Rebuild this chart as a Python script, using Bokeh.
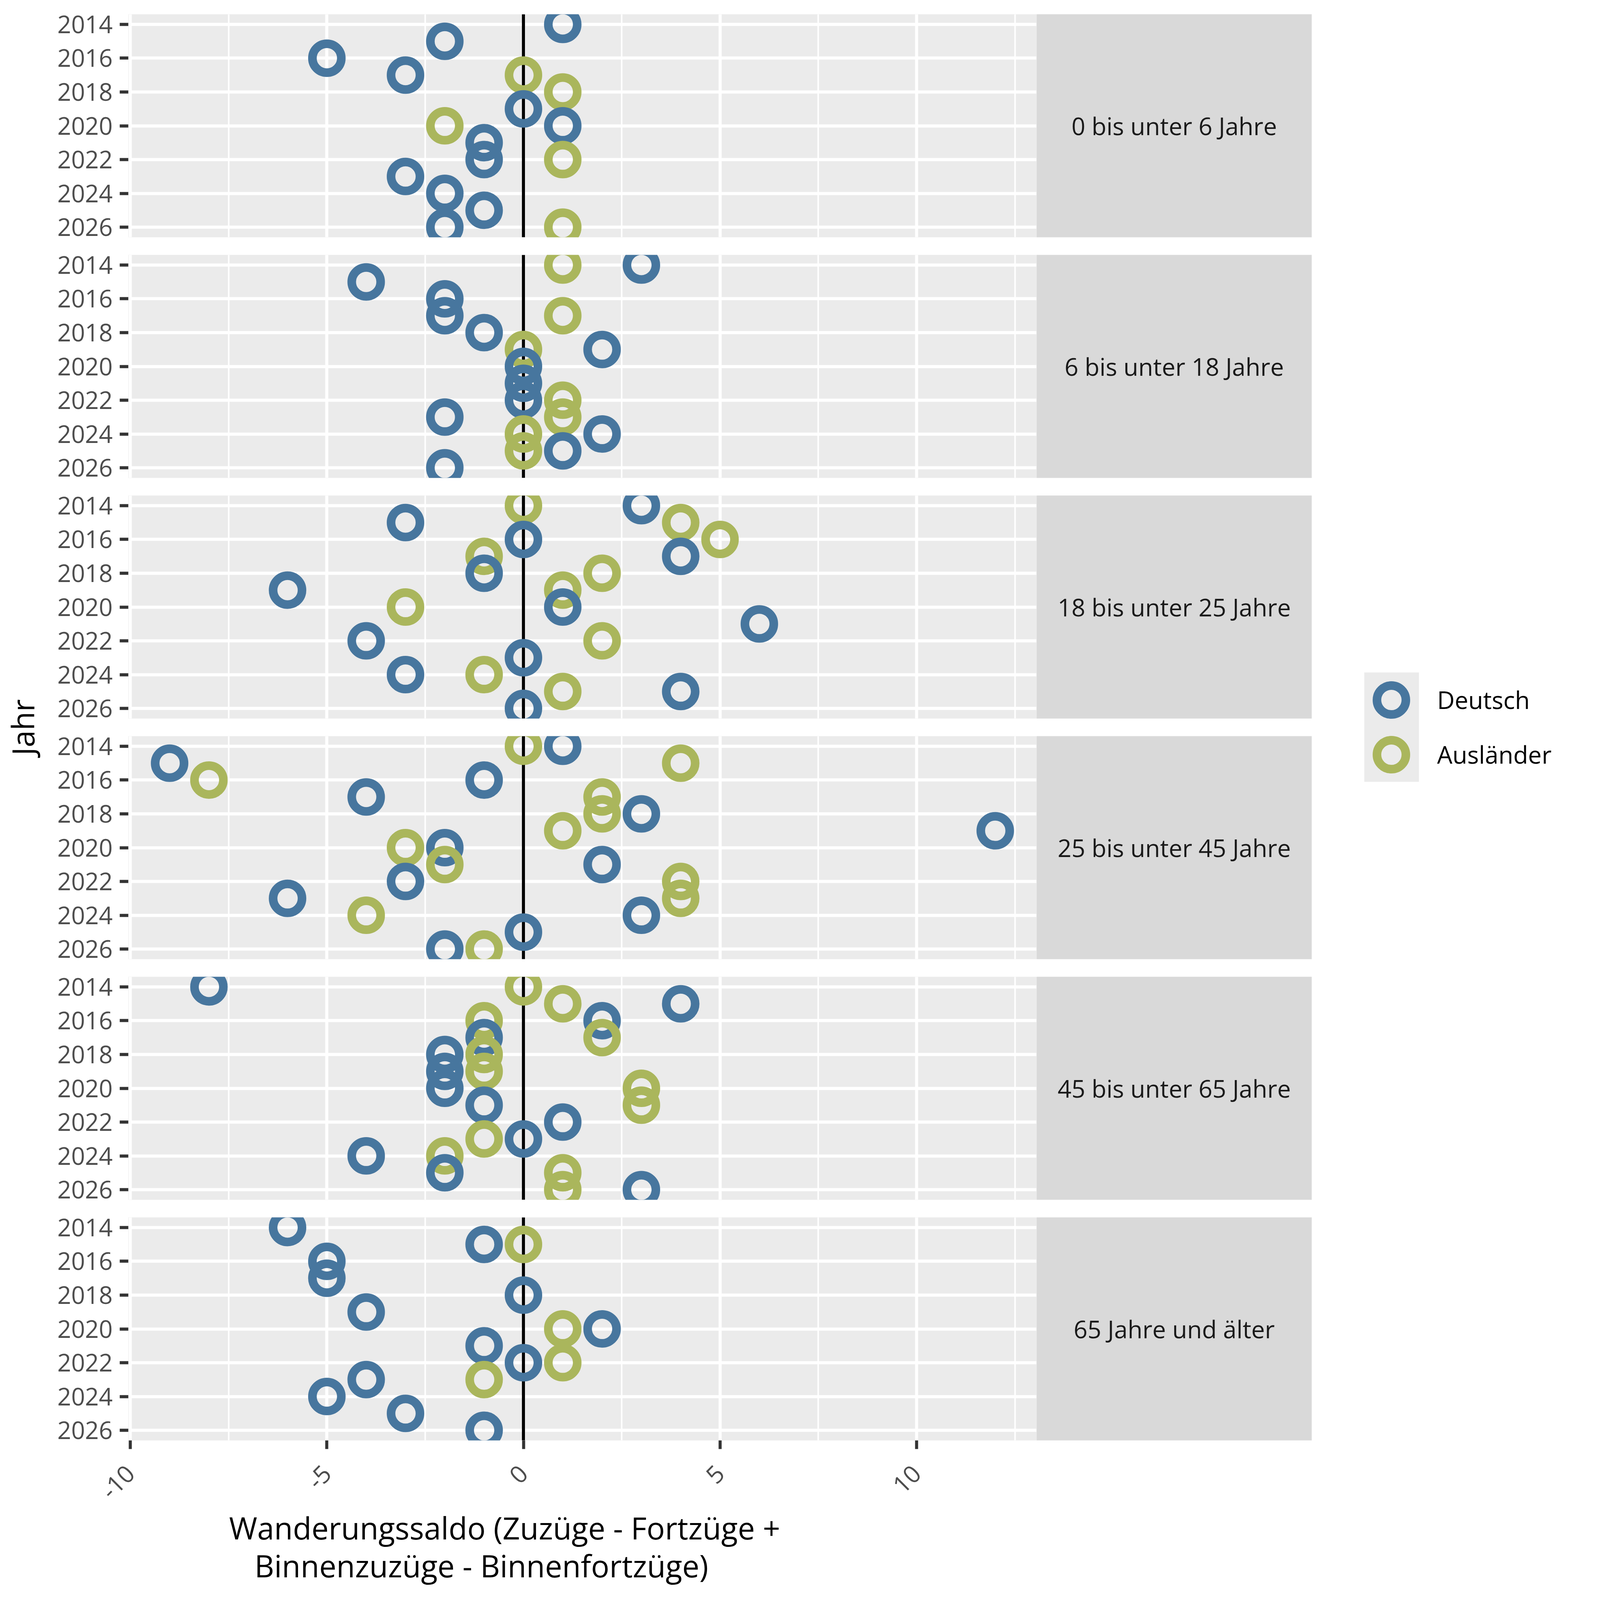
from math import pi
from bokeh.plotting import figure
from bokeh.models import (Range1d, FixedTicker, Grid, Span, ColumnDataSource,
                          Label, Legend, LegendItem, BoxAnnotation, Title)
from bokeh.layouts import row, column
from bokeh.embed import file_html
from bokeh.resources import INLINE

# ---------------- data ----------------
years = list(range(2014, 2027))
year_ticks = [2014, 2016, 2018, 2020, 2022, 2024, 2026]
x_ticks = [-10, -5, 0, 5, 10]
x_tick_labels = ["-10", "-5", "0", "5", "10"]
x_minor = [-7.5, -2.5, 2.5, 7.5, 12.5]

groups = ["0 bis unter 6 Jahre", "6 bis unter 18 Jahre", "18 bis unter 25 Jahre",
          "25 bis unter 45 Jahre", "45 bis unter 65 Jahre", "65 Jahre und älter"]
series_names = ["Deutsch", "Ausländer"]

d_0_6   = [1, -2, -5, -3, None, 0, 1, -1, -1, -3, -2, -1, -2]
a_0_6   = [None, None, None, 0, 1, None, -2, None, 1, None, None, None, 1]
d_6_18  = [3, -4, -2, -2, -1, 2, 0, 0, 0, -2, 2, 1, -2]
a_6_18  = [1, None, None, 1, None, 0, None, None, 1, 1, 0, 0, None]
d_18_25 = [3, -3, 0, 4, -1, -6, 1, 6, -4, 0, -3, 4, 0]
a_18_25 = [0, 4, 5, -1, 2, 1, -3, None, 2, None, -1, 1, None]
d_25_45 = [1, -9, -1, -4, 3, 12, -2, 2, -3, -6, 3, 0, -2]
a_25_45 = [0, 4, -8, 2, 2, 1, -3, -2, 4, 4, -4, None, -1]
d_45_65 = [-8, 4, 2, -1, -2, -2, -2, -1, 1, 0, -4, -2, 3]
a_45_65 = [0, 1, -1, 2, -1, -1, 3, 3, None, -1, -2, 1, 1]
d_65    = [-6, -1, -5, -5, 0, -4, 2, -1, 0, -4, -5, -3, -1]
a_65    = [None, 0, None, None, None, None, 1, None, 1, -1, None, None, None]

deutsch = [d_0_6, d_6_18, d_18_25, d_25_45, d_45_65, d_65]
auslaender = [a_0_6, a_6_18, a_18_25, a_25_45, a_45_65, a_65]

x_title_1 = "Wanderungssaldo (Zuzüge - Fortzüge +"
x_title_2 = "Binnenzuzüge - Binnenfortzüge)"
y_title = "Jahr"

# ---------------- style ----------------
BLUE = "#47769E"
GREEN = "#AAB65C"
PANEL_BG = "#EBEBEB"
STRIP_BG = "#D9D9D9"
FONT = "Open Sans"
X_LO, X_HI = -10.05, 13.05
Y_LO, Y_HI = 2013.4, 2026.6

TOTAL = 4070
LEFT_W = 120
YBORDER = 208
FRAME_W = 2325
FRAME_H = 571
STRIP_W = 705
TOP0 = 36
BOT_PAD = 20
TOP_PAD = 25
PANELS_BOTTOM = TOP0 + 6 * FRAME_H + 5 * (BOT_PAD + TOP_PAD)
BOTTOM_AX = TOTAL - PANELS_BOTTOM
CENTER_W = YBORDER + FRAME_W + STRIP_W
LEG_W = TOTAL - LEFT_W - CENTER_W

TICK_FS = "62px"
TITLE_FS = "78px"
LW = 7.8


def style_axis(ax):
    ax.axis_line_color = None
    ax.major_tick_line_color = "#333333"
    ax.major_tick_line_width = LW
    ax.major_tick_out = 22
    ax.major_tick_in = 0
    ax.minor_tick_line_color = None
    ax.major_label_text_font = FONT
    ax.major_label_text_font_size = TICK_FS
    ax.major_label_text_color = "#4D4D4D"


def make_panel(dv, av, top, bottom, last):
    p = figure(frame_width=FRAME_W, frame_height=FRAME_H, title=None,
               x_range=Range1d(X_LO, X_HI), y_range=Range1d(Y_HI, Y_LO),
               output_backend="svg", toolbar_location=None,
               x_axis_location="below" if last else None, y_axis_location="left",
               min_border_left=YBORDER, min_border_right=0, min_border_top=top,
               min_border_bottom=bottom,
               background_fill_color=PANEL_BG, border_fill_color="white",
               outline_line_color=None)
    p.center = []
    p.add_layout(Grid(dimension=0, ticker=FixedTicker(ticks=x_ticks, minor_ticks=x_minor),
                      grid_line_color="white", grid_line_width=LW,
                      minor_grid_line_color="white", minor_grid_line_width=LW / 2))
    p.add_layout(Grid(dimension=1, ticker=FixedTicker(ticks=year_ticks),
                      grid_line_color="white", grid_line_width=LW))
    p.add_layout(Span(location=0, dimension="height", line_color="black",
                      line_width=LW, level="underlay"))
    for ax in p.yaxis:
        style_axis(ax)
    p.yaxis.ticker = FixedTicker(ticks=year_ticks)
    p.yaxis.major_label_standoff = 18
    if last:
        for ax in p.xaxis:
            style_axis(ax)
        p.xaxis.ticker = FixedTicker(ticks=x_ticks)
        p.xaxis.major_label_overrides = {t: l for t, l in zip(x_ticks, x_tick_labels)}
        p.xaxis.major_label_orientation = pi / 4
        p.xaxis.major_label_standoff = 52
        # axis title below the tick labels (two lines, as in the original)
        for txt, off, so in ((x_title_1, 258, -10), (x_title_2, 323, -12)):
            p.add_layout(Title(text=txt, align="left", offset=off,
                               standoff=so, text_font=FONT, text_font_size=TITLE_FS,
                               text_font_style="normal", text_color="black"), "below")
    xs, ys, cs = [], [], []
    for i, yr in enumerate(years):
        for vals, col in ((dv, BLUE), (av, GREEN)):
            if vals[i] is not None:
                xs.append(vals[i]); ys.append(yr); cs.append(col)
    src = ColumnDataSource(dict(x=xs, y=ys, color=cs))
    p.scatter(x="x", y="y", source=src, marker="circle", size=74,
              fill_color=None, line_color="color", line_width=22)
    return p


def make_strip(label, top, bottom):
    s = figure(frame_width=STRIP_W, frame_height=FRAME_H, title=None,
               x_range=Range1d(0, STRIP_W), y_range=Range1d(0, FRAME_H),
               output_backend="svg", toolbar_location=None,
               x_axis_location=None, y_axis_location=None,
               min_border_left=0, min_border_right=0, min_border_top=top,
               min_border_bottom=bottom, background_fill_color=STRIP_BG,
               border_fill_color="white", outline_line_color=None)
    s.center = []
    s.add_layout(Label(x=STRIP_W / 2, y=FRAME_H / 2, text=label, text_align="center",
                       text_baseline="middle", text_font=FONT, text_font_size=TICK_FS,
                       text_color="#1A1A1A"))
    return s


rows = []
for k, g in enumerate(groups):
    top = TOP0 if k == 0 else TOP_PAD
    last = k == len(groups) - 1
    bottom = BOTTOM_AX if last else BOT_PAD
    rows.append(row(make_panel(deutsch[k], auslaender[k], top, bottom, last),
                    make_strip(g, top, bottom), spacing=0))

center_col = column(*rows, spacing=0)

# y-axis title, centred on the stack of panels
jf = figure(frame_width=LEFT_W - 110, frame_height=PANELS_BOTTOM - TOP0, title=None,
            x_range=Range1d(0, 1), y_range=Range1d(0, 1),
            output_backend="svg", toolbar_location=None,
            x_axis_location=None, y_axis_location="left",
            min_border_left=110, min_border_right=0, min_border_top=TOP0,
            min_border_bottom=TOTAL - PANELS_BOTTOM, outline_line_color=None,
            border_fill_color="white", background_fill_color="white")
jf.center = []
jf.yaxis.ticker = FixedTicker(ticks=[])
jf.yaxis.axis_line_color = None
jf.yaxis.major_tick_line_color = None
jf.yaxis.minor_tick_line_color = None
jf.yaxis.major_tick_out = 0
jf.yaxis.major_label_standoff = 0
jf.yaxis.axis_label = y_title
jf.yaxis.axis_label_standoff = 0
jf.yaxis.axis_label_text_font = FONT
jf.yaxis.axis_label_text_font_size = TITLE_FS
jf.yaxis.axis_label_text_font_style = "normal"
jf.yaxis.axis_label_text_color = "black"

# legend figure (same vertical borders as the title figure)
lf = figure(frame_width=LEG_W, frame_height=PANELS_BOTTOM - TOP0, title=None,
            x_range=Range1d(0, LEG_W), y_range=Range1d(TOTAL - PANELS_BOTTOM, TOTAL - TOP0),
            output_backend="svg", toolbar_location=None,
            x_axis_location=None, y_axis_location=None,
            min_border_left=0, min_border_right=0, min_border_top=TOP0,
            min_border_bottom=TOTAL - PANELS_BOTTOM, outline_line_color=None,
            border_fill_color="white", background_fill_color="white")
lf.center = []
lf.add_layout(BoxAnnotation(left=134, right=274, bottom=TOTAL - 2001, top=TOTAL - 1721,
                            fill_color=PANEL_BG, fill_alpha=1.0, line_color=None,
                            level="underlay"))
nan = float("nan")
key_centers = [1791, 1931]
for name, col, yc in zip(series_names, [BLUE, GREEN], key_centers):
    r = lf.scatter(x=[nan], y=[nan], marker="circle", size=74, fill_color=None,
                   line_color=col, line_width=22)
    lg = Legend(items=[LegendItem(label=name, renderers=[r])],
                location=(111, PANELS_BOTTOM - (yc + 92.5)), orientation="vertical",
                glyph_width=185, glyph_height=185, spacing=0, padding=0, margin=0,
                label_standoff=25, border_line_color=None, background_fill_alpha=0,
                label_text_font=FONT, label_text_font_size=TICK_FS,
                label_text_color="black", label_text_baseline="middle")
    lf.add_layout(lg)

layout = row(jf, center_col, lf, spacing=0)

open("out.html", "w").write(file_html(layout, INLINE))
